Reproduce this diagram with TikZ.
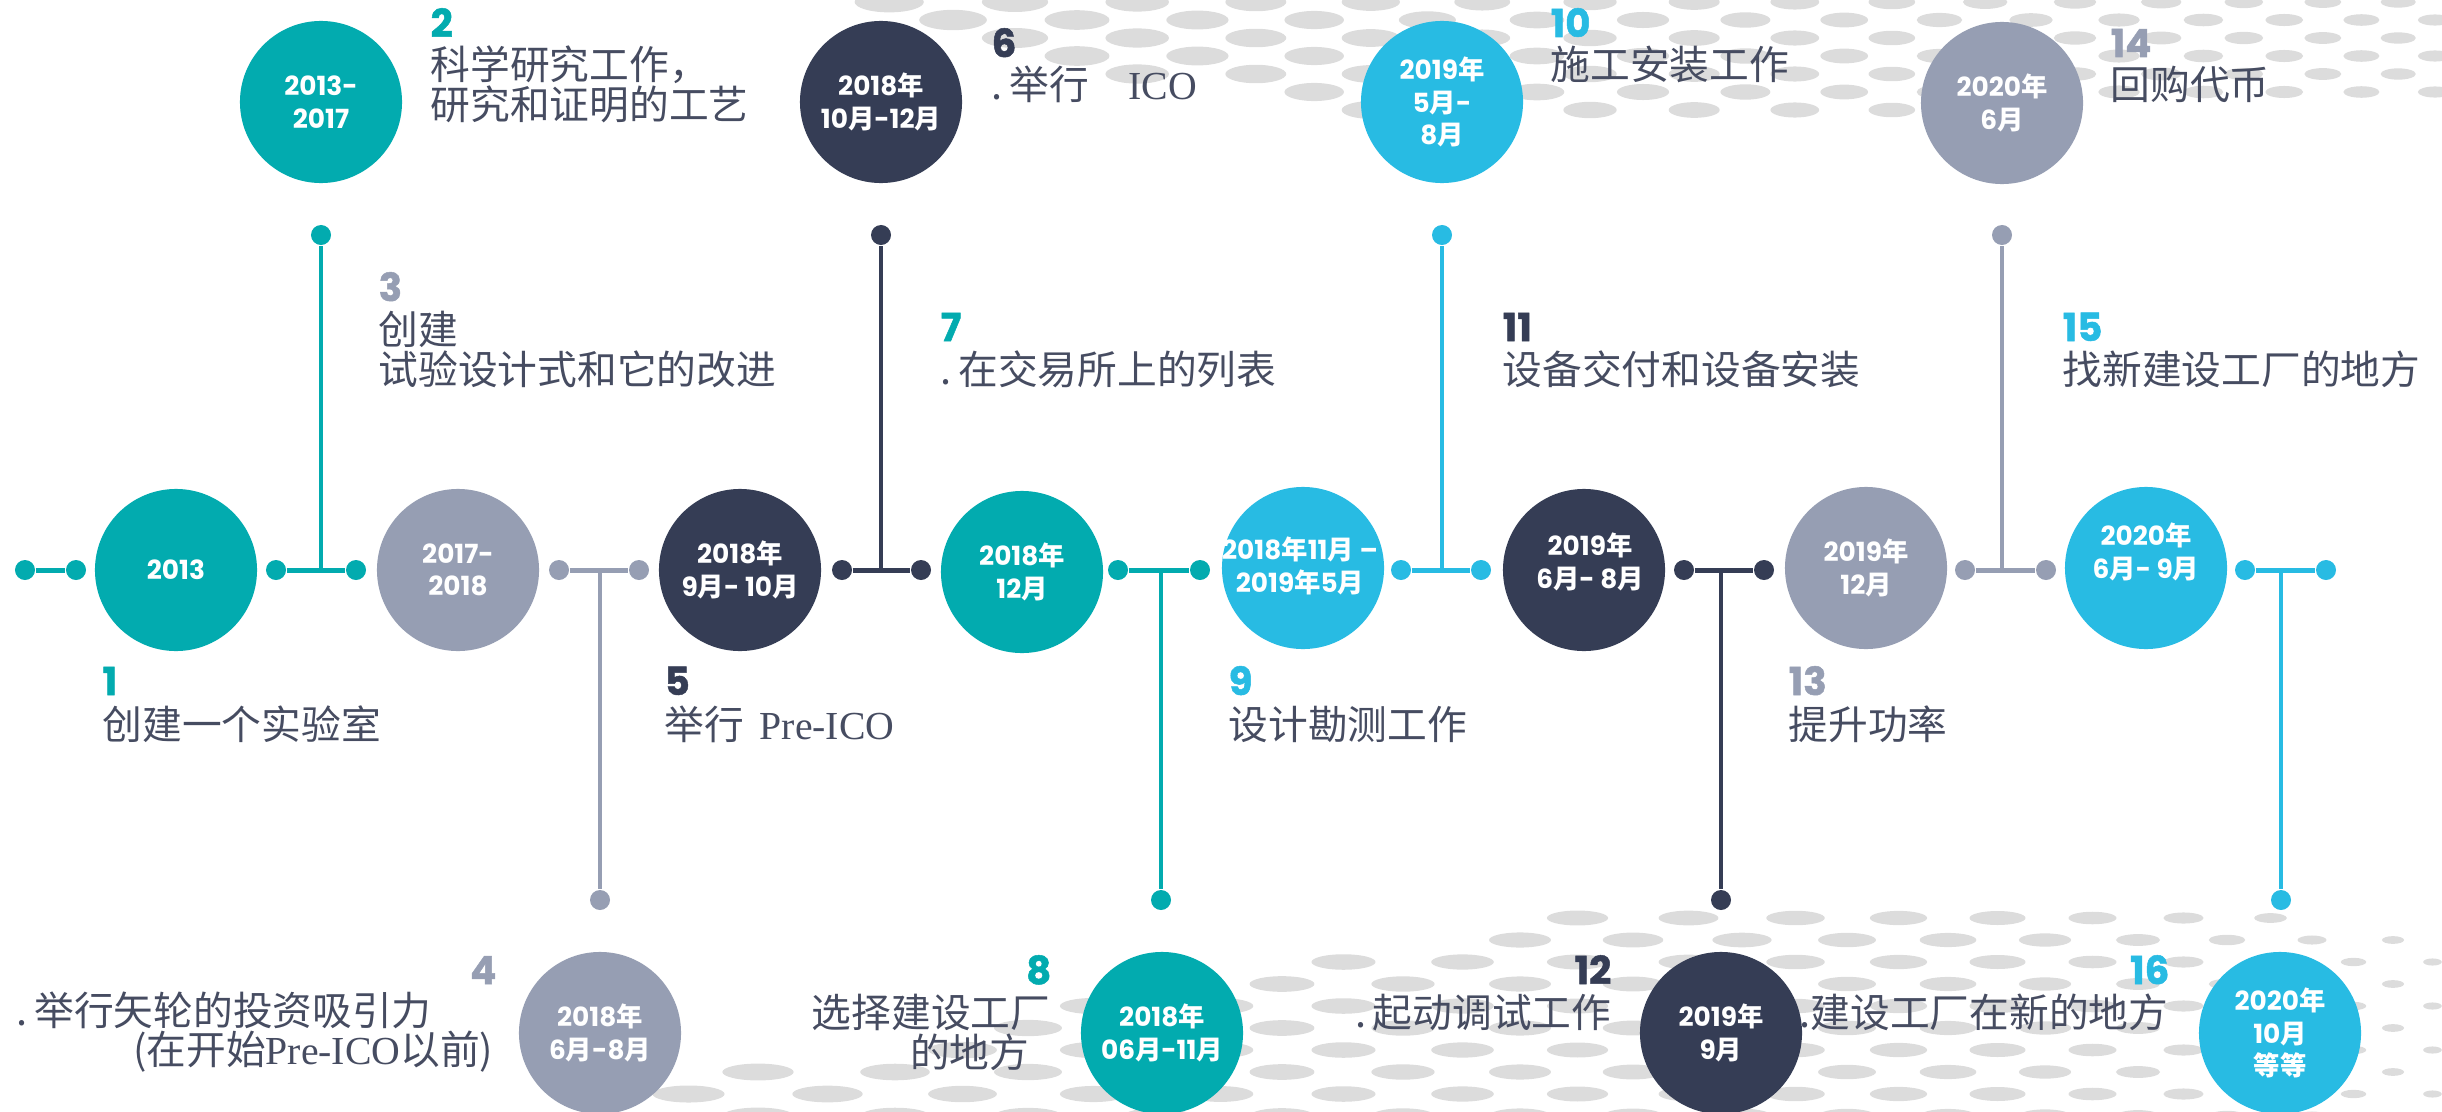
\documentclass[tikz,border=0pt]{standalone}
\usepackage{fontspec}
\setmainfont{Poppins}
\newfontfamily\cjk{Noto Sans CJK SC}
\newfontfamily\numf{Poppins}[BoldFeatures={FakeBold=1.3}]
\newfontfamily\circf{Poppins}
\newfontfamily\lser{Liberation Serif}
\definecolor{tealc}{HTML}{02ABAF}
\definecolor{greyc}{HTML}{969EB3}
\definecolor{navyc}{HTML}{353D55}
\definecolor{skyc}{HTML}{28BBE3}
\definecolor{txtc}{HTML}{464C61}
\definecolor{dotc}{HTML}{DCDCDC}
\newcommand\NIAN{{\cjk\bfseries 年}}
\newcommand\YUE{{\cjk\bfseries 月}}
\tikzset{
  tcirc/.style={circle, minimum size=1.62cm, inner sep=0pt},
  ctext/.style={text=white, align=center, inner sep=0pt, font=\circf\bfseries\fontsize{7.5}{9.2}\selectfont},
  jdot/.style={circle, minimum size=0.2cm, inner sep=0pt},
  link/.style={line width=0.05cm},
  stemline/.style={line width=0.045cm},
  numlab/.style={inner sep=0pt, font=\numf\bfseries\fontsize{11}{13}\selectfont},
  txtlab/.style={inner sep=0pt, text=txtc, font=\cjk\fontsize{11.3}{13}\selectfont},
}
\begin{document}
\begin{tikzpicture}[x=0.01cm, y=-0.01cm]
\useasboundingbox (0,0) rectangle (2442,1112);

% ---------- background dot patterns ----------
\foreach \r in {0,...,7}{
  \foreach \c in {0,...,18}{
    \pgfmathsetmacro\SP{70+3.6*\c}
    \pgfmathsetmacro\XX{2470-\c*70-\c*\c*1.8+mod(\r,2)*\SP/2}
    \pgfmathsetmacro\YY{2+\r*18}
    \pgfmathsetmacro\LL{(\XX<1600)?(25+100*sin(min(max((\XX-850)/750,0),1)*90)):(125-(\XX-1600)*0.035)}
    \pgfmathsetmacro\WW{max(16,35-(\XX-850)/1600*18)}
    \pgfmathsetmacro\HH{max(5,10.5-(\XX-850)/1600*5)}
    \ifdim\XX pt>830pt \ifdim\YY pt<\LL pt \fill[dotc] (\XX,\YY) ellipse[x radius=\WW, y radius=\HH];\fi\fi
  }
}
\foreach \r in {0,...,10}{
  \foreach \c in {0,...,17}{
    \pgfmathsetmacro\SP{75+4*\c}
    \pgfmathsetmacro\XX{2470-\c*75-\c*\c*2+mod(\r,2)*\SP/2}
    \pgfmathsetmacro\YY{896+\r*22}
    \pgfmathsetmacro\LL{(\XX<1600)?(905+(1600-\XX)*0.19):(900+max(\XX-2250,0)*0.2)}
    \pgfmathsetmacro\WW{(\XX<2000)?(36-(\XX-700)/1300*8):(max(9,28-(\XX-2000)/440*19))}
    \pgfmathsetmacro\HH{(\XX<2000)?(8.5-(\XX-700)/1300*1.5):(max(3.5,7-(\XX-2000)/440*3.5))}
    \ifdim\XX pt>620pt \ifdim\YY pt>\LL pt \fill[dotc] (\XX,\YY) ellipse[x radius=\WW, y radius=\HH];\fi\fi
  }
}

% ---------- connector dots on the main line ----------
\node[jdot, fill=tealc] (p0a) at (25,570) {};
\node[jdot, fill=tealc] (p0b) at (76,570) {};
\draw[link, tealc] (p0a) -- (p0b);

\node[jdot, fill=tealc] (p1a) at (276,570) {};
\node[jdot, fill=tealc] (p1b) at (356,570) {};
\draw[link, tealc] (p1a) -- (p1b);
\coordinate (j1) at (321,570);
\node[jdot, fill=tealc] (u1) at (321,235) {};
\draw[stemline, tealc] (j1) -- (u1);

\node[jdot, fill=greyc] (p2a) at (559,570) {};
\node[jdot, fill=greyc] (p2b) at (639,570) {};
\draw[link, greyc] (p2a) -- (p2b);
\coordinate (j2) at (600,570);
\node[jdot, fill=greyc] (d2) at (600,900) {};
\draw[stemline, greyc] (j2) -- (d2);

\node[jdot, fill=navyc] (p3a) at (842,570) {};
\node[jdot, fill=navyc] (p3b) at (921,570) {};
\draw[link, navyc] (p3a) -- (p3b);
\coordinate (j3) at (881,570);
\node[jdot, fill=navyc] (u3) at (881,235) {};
\draw[stemline, navyc] (j3) -- (u3);

\node[jdot, fill=tealc] (p4a) at (1118,570) {};
\node[jdot, fill=tealc] (p4b) at (1200,570) {};
\draw[link, tealc] (p4a) -- (p4b);
\coordinate (j4) at (1161,570);
\node[jdot, fill=tealc] (d4) at (1161,900) {};
\draw[stemline, tealc] (j4) -- (d4);

\node[jdot, fill=skyc] (p5a) at (1401,570) {};
\node[jdot, fill=skyc] (p5b) at (1481,570) {};
\draw[link, skyc] (p5a) -- (p5b);
\coordinate (j5) at (1442,570);
\node[jdot, fill=skyc] (u5) at (1442,235) {};
\draw[stemline, skyc] (j5) -- (u5);

\node[jdot, fill=navyc] (p6a) at (1684,570) {};
\node[jdot, fill=navyc] (p6b) at (1764,570) {};
\draw[link, navyc] (p6a) -- (p6b);
\coordinate (j6) at (1721,570);
\node[jdot, fill=navyc] (d6) at (1721,900) {};
\draw[stemline, navyc] (j6) -- (d6);

\node[jdot, fill=greyc] (p7a) at (1965,570) {};
\node[jdot, fill=greyc] (p7b) at (2046,570) {};
\draw[link, greyc] (p7a) -- (p7b);
\coordinate (j7) at (2002,570);
\node[jdot, fill=greyc] (u7) at (2002,235) {};
\draw[stemline, greyc] (j7) -- (u7);

\node[jdot, fill=skyc] (p8a) at (2245,570) {};
\node[jdot, fill=skyc] (p8b) at (2326,570) {};
\draw[link, skyc] (p8a) -- (p8b);
\coordinate (j8) at (2281,570);
\node[jdot, fill=skyc] (d8) at (2281,900) {};
\draw[stemline, skyc] (j8) -- (d8);

% ---------- main circles ----------
\node[tcirc, fill=tealc] (c1) at (176,570) {};
\node[ctext] (c1t) at (c1) {2013};
\node[tcirc, fill=greyc] (c2) at (458,570) {};
\node[ctext] (c2t) at (c2) {2017-\\2018};
\node[tcirc, fill=navyc] (c3) at (740,570) {};
\node[ctext] (c3t) at (c3) {2018\NIAN\\9\YUE- 10\YUE};
\node[tcirc, fill=tealc] (c4) at (1022,572) {};
\node[ctext] (c4t) at (c4) {2018\NIAN\\12\YUE};
\node[tcirc, fill=skyc] (c5) at (1303,568) {};
\node[ctext] (c5t) at (1300,566) {2018\NIAN 11\YUE\ –\\2019\NIAN 5\YUE};
\node[tcirc, fill=navyc] (c6) at (1584,570) {};
\node[ctext] (c6t) at (1590,562) {2019\NIAN\\6\YUE - 8\YUE};
\node[tcirc, fill=greyc] (c7) at (1866,568) {};
\node[ctext] (c7t) at (c7) {2019\NIAN\\12\YUE};
\node[tcirc, fill=skyc] (c8) at (2146,568) {};
\node[ctext] (c8t) at (2146,552) {2020\NIAN\\6\YUE - 9\YUE};

% ---------- top circles ----------
\node[tcirc, fill=tealc] (t1) at (321,102) {};
\node[ctext] (t1t) at (t1) {2013-\\2017};
\node[tcirc, fill=navyc] (t3) at (881,102) {};
\node[ctext] (t3t) at (t3) {2018\NIAN\\10\YUE-12\YUE};
\node[tcirc, fill=skyc] (t5) at (1442,102) {};
\node[ctext] (t5t) at (t5) {2019\NIAN\\5\YUE -\\8\YUE};
\node[tcirc, fill=greyc] (t7) at (2002,103) {};
\node[ctext] (t7t) at (t7) {2020\NIAN\\6\YUE};

% ---------- bottom circles ----------
\node[tcirc, fill=greyc] (b2) at (600,1033) {};
\node[ctext] (b2t) at (b2) {2018\NIAN\\6\YUE -8\YUE};
\node[tcirc, fill=tealc] (b4) at (1162,1033) {};
\node[ctext] (b4t) at (b4) {2018\NIAN\\06\YUE -11\YUE};
\node[tcirc, fill=navyc] (b6) at (1721,1033) {};
\node[ctext] (b6t) at (b6) {2019\NIAN\\9\YUE};
\node[tcirc, fill=skyc] (b8) at (2280,1033) {};
\node[ctext] (b8t) at (b8) {2020\NIAN\\10\YUE\\{\cjk\bfseries 等等}};

% ---------- labels ----------
% 1
\node[numlab, text=tealc, anchor=base west] (n1) at (102,695) {1};
\node[txtlab, anchor=base west] (l1) at (102,739) {创建一个实验室};
% 2
\node[numlab, text=tealc, anchor=base west] (n2) at (430,37) {2};
\node[txtlab, anchor=base west] (l2a) at (430,80) {科学研究工作，};
\node[txtlab, anchor=base west] (l2b) at (430,119) {研究和证明的工艺};
% 3
\node[numlab, text=greyc, anchor=base west] (n3) at (378,301) {3};
\node[txtlab, anchor=base west] (l3a) at (378,344) {创建};
\node[txtlab, anchor=base west] (l3b) at (378,384) {试验设计式和它的改进};
% 4
\node[numlab, text=greyc, anchor=base east] (n4) at (497,984) {4};
\node[txtlab, anchor=base west] (l4a) at (16,1025) {.\,举行矢轮的投资吸引力};
\node[txtlab, anchor=base east] (l4b) at (494,1064) {(在开始{\lser Pre-ICO}以前)};
% 5
\node[numlab, text=navyc, anchor=base west] (n5) at (664,695) {5};
\node[txtlab, anchor=base west] (l5) at (664,739) {举行\, {\lser Pre-ICO}};
% 6
\node[numlab, text=navyc, anchor=base west] (n6) at (991,57) {6};
\node[txtlab, anchor=base west] (l6) at (991,99) {.\,举行\quad{\lser ICO}};
% 7
\node[numlab, text=tealc, anchor=base west] (n7) at (940,341) {7};
\node[txtlab, anchor=base west] (l7) at (940,384) {.\,在交易所上的列表};
% 8
\node[numlab, text=tealc, anchor=base east] (n8) at (1052,984) {8};
\node[txtlab, anchor=base east] (l8a) at (1051,1027) {选择建设工厂};
\node[txtlab, anchor=base east] (l8b) at (1030,1067) {的地方};
% 9
\node[numlab, text=skyc, anchor=base west] (n9) at (1228,695) {9};
\node[txtlab, anchor=base west] (l9) at (1228,739) {设计勘测工作};
% 10
\node[numlab, text=skyc, anchor=base west] (n10) at (1550,37) {10};
\node[txtlab, anchor=base west] (l10) at (1550,80) {施工安装工作};
% 11
\node[numlab, text=navyc, anchor=base west] (n11) at (1502,341) {11};
\node[txtlab, anchor=base west] (l11) at (1502,384) {设备交付和设备安装};
% 12
\node[numlab, text=navyc, anchor=base east] (n12) at (1612,984) {12};
\node[txtlab, anchor=base east] (l12) at (1612,1027) {.\,起动调试工作};
% 13
\node[numlab, text=greyc, anchor=base west] (n13) at (1788,695) {13};
\node[txtlab, anchor=base west] (l13) at (1788,739) {提升功率};
% 14
\node[numlab, text=greyc, anchor=base west] (n14) at (2110,57) {14};
\node[txtlab, anchor=base west] (l14) at (2110,99) {回购代币};
% 15
\node[numlab, text=skyc, anchor=base west] (n15) at (2062,341) {15};
\node[txtlab, anchor=base west] (l15) at (2062,384) {找新建设工厂的地方};
% 16
\node[numlab, text=skyc, anchor=base east] (n16) at (2170,984) {16};
\node[txtlab, anchor=base east] (l16) at (2169,1027) {.建设工厂在新的地方};
\end{tikzpicture}
\end{document}
